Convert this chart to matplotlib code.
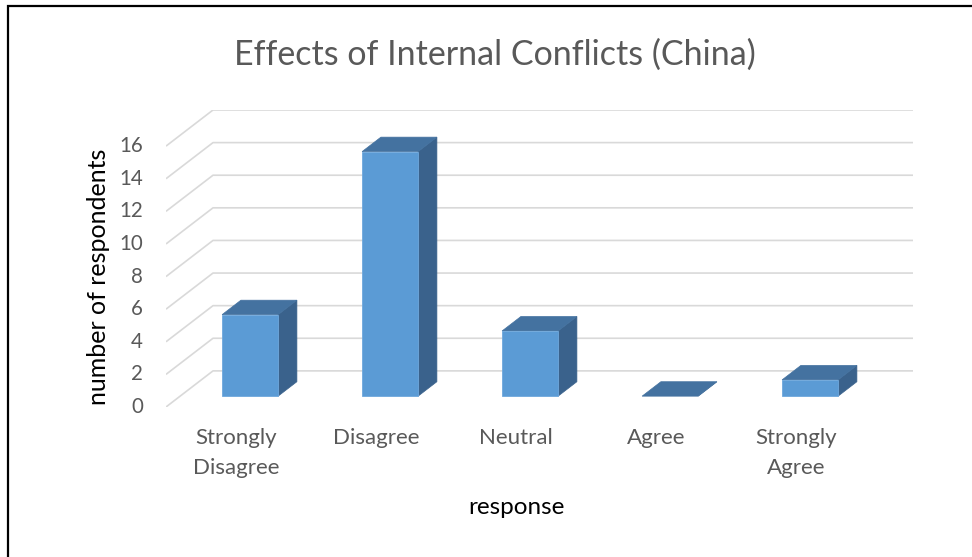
import matplotlib
matplotlib.use('Agg')
import matplotlib.pyplot as plt
from matplotlib.patches import Polygon, Rectangle

# survey counts per answer
categories = ['Strongly\nDisagree', 'Disagree', 'Neutral', 'Agree', 'Strongly\nAgree']
respondents = [5, 15, 4, 0, 1]
y_ticks = [0, 2, 4, 6, 8, 10, 12, 14, 16]

FRONT = '#5B9BD5'
TOP = '#4472A0'
SIDE = '#3A628C'
GRID = '#D9D9D9'
TEXT = '#595959'

plt.rcParams['font.family'] = ['Lato', 'DejaVu Sans']

W, H = 972, 557
fig = plt.figure(figsize=(W / 100, H / 100), dpi=100)
fig.patch.set_facecolor('white')

# plot box in pixels (front floor edge at the bottom, back wall top at the top)
left, right, bottom, top = 166, 913, 407, 110
ax = fig.add_axes([left / W, 1 - bottom / H, (right - left) / W, (bottom - top) / H])

n = len(categories)
# oblique depth offset, in data units (one category = 1, one respondent = 1)
DX = 47 / 140
DY = 36 / 16.25
ax.set_xlim(0, n + DX)
ax.set_ylim(0, y_ticks[-1] + DY)
ax.axis('off')


def proj(x, y, d):
    return (x + d * DX, y + d * DY)


# back wall gridlines with the slanted side-wall part
for v in y_ticks:
    pts = [proj(0, v, 0), proj(0, v, 1), proj(n, v, 1)]
    ax.plot([p[0] for p in pts], [p[1] for p in pts], color=GRID, lw=1.2,
            solid_capstyle='butt', zorder=1)
    ax.text(-0.165, v, str(v), ha='right', va='center',
            fontsize=14.8, color=TEXT)

# 3d columns: sit between 30% and 70% of the depth
d0, d1 = 0.3, 0.7
bw = 0.4
for i, val in enumerate(respondents):
    x0 = i + 0.5 - bw / 2
    x1 = x0 + bw
    side = [proj(x1, 0, d0), proj(x1, 0, d1), proj(x1, val, d1), proj(x1, val, d0)]
    topf = [proj(x0, val, d0), proj(x1, val, d0), proj(x1, val, d1), proj(x0, val, d1)]
    front = [proj(x0, 0, d0), proj(x1, 0, d0), proj(x1, val, d0), proj(x0, val, d0)]
    ax.add_patch(Polygon(side, closed=True, facecolor=SIDE, edgecolor=SIDE, lw=0.5, zorder=3))
    ax.add_patch(Polygon(topf, closed=True, facecolor=TOP, edgecolor=TOP, lw=0.5, zorder=3))
    if val > 0:
        ax.add_patch(Polygon(front, closed=True, facecolor=FRONT, edgecolor='#6FA8DC',
                             lw=0.6, zorder=4))

# category labels under the front floor edge
for i, lab in enumerate(categories):
    fig.text((left + 140 * (i + 0.5)) / W, 1 - 428 / H, lab, ha='center', va='top',
             fontsize=16, color=TEXT, linespacing=1.62)

fig.text(495 / W, 1 - 55 / H, 'Effects of Internal Conflicts (China)', ha='center',
         va='center', fontsize=24.5, color=TEXT)
fig.text(99 / W, 1 - 277 / H, 'number of respondents', ha='center', va='center',
         rotation=90, fontsize=18, color='black')
fig.text(516 / W, 1 - 508 / H, 'response', ha='center', va='center',
         fontsize=17.5, color='black')

# chart frame (only left and top edges fall inside the image)
fig.patches.append(Rectangle((7.5 / W, -0.1), 1.2, 1 - 5.5 / H + 0.1, transform=fig.transFigure,
                             fill=False, edgecolor='black', lw=1.6))

fig.savefig('out.png', dpi=100, facecolor='white')
